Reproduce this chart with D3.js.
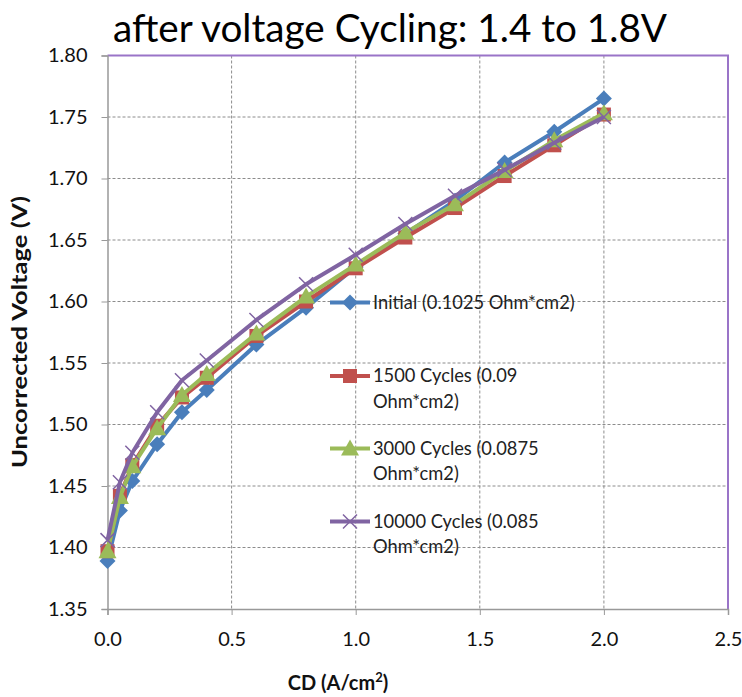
<!DOCTYPE html>
<html>
<head>
<meta charset="utf-8">
<script src="https://cdn.jsdelivr.net/npm/d3@7"></script>
<style>
  body { margin: 0; background: #fff; }
  #chart { width: 742px; height: 697px; }
</style>
</head>
<body>
<div id="chart"></div>
<script>
// current density (A/cm2)
var cd = [0, 0.05, 0.1, 0.2, 0.3, 0.4, 0.6, 0.8, 1.0, 1.2, 1.4, 1.6, 1.8, 2.0];

var initial   = [1.389, 1.430, 1.454, 1.484, 1.510, 1.528, 1.565, 1.595, 1.628, 1.655, 1.682, 1.713, 1.738, 1.765];
var cyc1500   = [1.397, 1.442, 1.467, 1.499, 1.522, 1.538, 1.572, 1.600, 1.627, 1.652, 1.676, 1.702, 1.727, 1.752];
var cyc3000   = [1.397, 1.441, 1.466, 1.497, 1.524, 1.541, 1.574, 1.604, 1.630, 1.656, 1.679, 1.706, 1.731, 1.753];
var cyc10000  = [1.406, 1.453, 1.477, 1.510, 1.536, 1.552, 1.585, 1.614, 1.638, 1.663, 1.686, 1.707, 1.729, 1.750];

var legendLines = [["Initial (0.1025 Ohm*cm2)"], ["1500 Cycles (0.09", "Ohm*cm2)"],
                   ["3000 Cycles (0.0875", "Ohm*cm2)"], ["10000 Cycles (0.085", "Ohm*cm2)"]];
var xTicks = [0, 0.5, 1.0, 1.5, 2.0, 2.5];
var yTicks = [1.35, 1.40, 1.45, 1.50, 1.55, 1.60, 1.65, 1.70, 1.75, 1.80];

var colors = ["#4a7ebb", "#c0504d", "#9bbb59", "#8064a2"];
var shapes = ["diamond", "square", "triangle", "x"];
var allValues = [initial, cyc1500, cyc3000, cyc10000];

var W = 742, H = 697;
var margin = { top: 55.5, right: 14, bottom: 88, left: 107.5 };
var width = W - margin.left - margin.right;
var height = H - margin.top - margin.bottom;
var font = "Lato, 'Open Sans', sans-serif";

var svg = d3.select("#chart").append("svg")
    .attr("width", W)
    .attr("height", H);

var g = svg.append("g")
    .attr("transform", "translate(" + margin.left + "," + margin.top + ")");

var x = d3.scaleLinear().domain([0, 2.5]).range([0, width]);
var y = d3.scaleLinear().domain([1.35, 1.80]).range([height, 0]);

// grid
g.append("g").selectAll("line.h")
    .data(yTicks.slice(1, -1))
    .enter().append("line")
    .attr("x1", 0).attr("x2", width)
    .attr("y1", function(d) { return y(d); })
    .attr("y2", function(d) { return y(d); })
    .attr("stroke", "#8c8c8c")
    .attr("stroke-dasharray", "3,2");

g.append("g").selectAll("line.v")
    .data(xTicks.slice(1, -1))
    .enter().append("line")
    .attr("y1", 0).attr("y2", height)
    .attr("x1", function(d) { return x(d); })
    .attr("x2", function(d) { return x(d); })
    .attr("stroke", "#8c8c8c")
    .attr("stroke-dasharray", "3,2");

// plot border top/right
g.append("path")
    .attr("d", "M0,0H" + width + "V" + height)
    .attr("fill", "none")
    .attr("stroke", "#9a74c8")
    .attr("stroke-width", 2);

// axes
var yAxis = g.append("g")
    .call(d3.axisLeft(y).tickValues(yTicks).tickFormat(d3.format(".2f")).tickSizeOuter(0).tickSize(6).tickPadding(14));
var xAxis = g.append("g")
    .attr("transform", "translate(0," + height + ")")
    .call(d3.axisBottom(x).tickValues(xTicks).tickFormat(d3.format(".1f")).tickSizeOuter(0).tickSize(6).tickPadding(17));

[xAxis, yAxis].forEach(function(a) {
    a.select(".domain").attr("stroke", "#999").attr("stroke-width", 1.5);
    a.selectAll(".tick line").attr("stroke", "#999");
    a.selectAll("text").attr("font-family", font).attr("font-size", 20).attr("fill", "#111");
});

// markers
function marker(sel, shape, color) {
    if (shape === "diamond") {
        sel.append("path").attr("d", "M0,-8L8,0L0,8L-8,0Z").attr("fill", color);
    } else if (shape === "square") {
        sel.append("rect").attr("x", -7).attr("y", -7).attr("width", 14).attr("height", 14).attr("fill", color);
    } else if (shape === "triangle") {
        sel.append("path").attr("d", "M0,-9L9,7L-9,7Z").attr("fill", color);
    } else {
        sel.append("path").attr("d", "M-7,-7L7,7M-7,7L7,-7")
            .attr("stroke", color).attr("stroke-width", 1.5).attr("fill", "none");
    }
}

var line = d3.line()
    .x(function(d) { return x(d[0]); })
    .y(function(d) { return y(d[1]); });

allValues.forEach(function(vals, i) {
    var pts = cd.map(function(c, j) { return [c, vals[j]]; });
    g.append("path")
        .datum(pts)
        .attr("fill", "none")
        .attr("stroke", colors[i])
        .attr("stroke-width", 4)
        .attr("stroke-linejoin", "round")
        .attr("d", line);
    pts.forEach(function(p) {
        var m = g.append("g").attr("transform", "translate(" + x(p[0]) + "," + y(p[1]) + ")");
        marker(m, shapes[i], colors[i]);
    });
});

// legend
var legY = [302.5, 376, 448.5, 521.5];
legendLines.forEach(function(lines, i) {
    var lg = svg.append("g").attr("transform", "translate(330," + legY[i] + ")");
    lg.append("line").attr("x1", 0).attr("x2", 40).attr("y1", 0).attr("y2", 0)
        .attr("stroke", colors[i]).attr("stroke-width", 4);
    marker(lg.append("g").attr("transform", "translate(20,0)"), shapes[i], colors[i]);
    lines.forEach(function(t, k) {
        lg.append("text")
            .attr("x", 43).attr("y", k * 25.5)
            .attr("dy", "0.35em")
            .attr("font-family", font).attr("font-size", 18.3).attr("fill", "#222")
            .text(t);
    });
});

// title
svg.append("text")
    .attr("x", 390).attr("y", 42)
    .attr("text-anchor", "middle")
    .attr("font-family", font).attr("font-size", 39).attr("fill", "#000")
    .attr("textLength", 554).attr("lengthAdjust", "spacingAndGlyphs")
    .text("after voltage Cycling: 1.4 to 1.8V");

// axis titles
svg.append("text")
    .attr("transform", "translate(27," + 332 + ") rotate(-90)")
    .attr("text-anchor", "middle")
    .attr("font-family", font).attr("font-size", 20).attr("font-weight", "bold").attr("fill", "#111")
    .attr("textLength", 272).attr("lengthAdjust", "spacingAndGlyphs")
    .text("Uncorrected Voltage (V)");

var xt = svg.append("text")
    .attr("x", 338).attr("y", 690)
    .attr("text-anchor", "middle")
    .attr("font-family", font).attr("font-size", 20).attr("font-weight", "bold").attr("fill", "#111");
xt.append("tspan").text("CD (A/cm");
xt.append("tspan").attr("font-size", 13).attr("dy", -8).text("2");
xt.append("tspan").attr("dy", 8).text(")");
</script>
</body>
</html>
